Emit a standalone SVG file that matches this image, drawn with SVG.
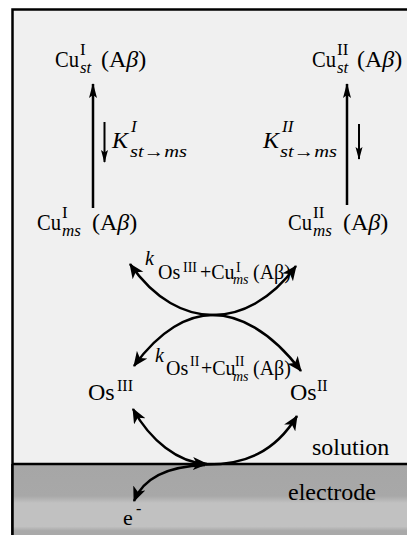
<svg xmlns="http://www.w3.org/2000/svg" width="407" height="535" viewBox="0 0 407 535">
<style>
.big{font-size:24px}
.sup{font-size:17px}
.mid{font-size:20px}
.sm{font-size:14px}
.it{font-style:italic}
.ln{fill:none;stroke:#000;stroke-width:2.5}
.thin{fill:none;stroke:#000;stroke-width:2}
</style>
<defs>
<linearGradient id="el" x1="0" y1="0" x2="0" y2="1">
<stop offset="0" stop-color="#a6a6a6"/>
<stop offset="0.45" stop-color="#a8a8a8"/>
<stop offset="0.55" stop-color="#c1c1c1"/>
<stop offset="0.88" stop-color="#c1c1c1"/>
<stop offset="0.94" stop-color="#a9a9a9"/>
<stop offset="1" stop-color="#a9a9a9"/>
</linearGradient>
<marker id="ah" markerUnits="userSpaceOnUse" markerWidth="17" markerHeight="14" refX="14" refY="6.5" orient="auto-start-reverse">
<path d="M0,0 L15,6.5 L0,13 L4,6.5 z" fill="#000"/>
</marker>
<marker id="av" markerUnits="userSpaceOnUse" markerWidth="16" markerHeight="10" refX="14" refY="4" orient="auto-start-reverse">
<path d="M0,0 L15,4 L0,8 L3,4 z" fill="#000"/>
</marker>
<marker id="as" markerUnits="userSpaceOnUse" markerWidth="14" markerHeight="8" refX="12" refY="3.5" orient="auto-start-reverse">
<path d="M0,0 L13,3.5 L0,7 L2.5,3.5 z" fill="#000"/>
</marker>
</defs>
<rect x="0" y="0" width="407" height="535" fill="#fff"/>
<g font-family="'Liberation Serif', 'DejaVu Serif', serif" fill="#000">
<g id="solution">
<rect x="12.5" y="9.5" width="400" height="455" fill="#f0f0f0"/>
<path d="M12.5,535 V9.5 H407" class="ln"/>
<text class="big" x="312" y="455">solution</text>
</g>
<g id="electrode">
<rect x="12.5" y="464" width="400" height="71" fill="url(#el)"/>
<path d="M12.5,464 V535 M12.5,464 H407" class="ln"/>
<text class="big" x="288" y="500">electrode</text>
</g>
<g id="connectors">
<path class="ln" d="M93,208 V84" marker-end="url(#av)"/>
<path class="ln" d="M347,205 V84" marker-end="url(#av)"/>
<path class="thin" d="M104.5,122 V162" marker-end="url(#as)"/>
<path class="thin" d="M359,124 V159" marker-end="url(#as)"/>
<path class="ln" d="M130,264 C155,300 185,315 213,315 C241,315 271,300 296,266" marker-start="url(#ah)" marker-end="url(#ah)"/>
<path class="ln" d="M134,366 C160,330 188,315 213,315 C238,315 270,330 301,371" marker-start="url(#ah)" marker-end="url(#ah)"/>
<path class="ln" d="M133,409 C150,440 178,463 207,464" marker-start="url(#ah)" marker-end="url(#ah)"/>
<path class="ln" d="M205,464.5 C245,465 275,452 297,416" marker-end="url(#ah)"/>
<path class="ln" d="M205,465 C175,466 145,474 134,501" marker-end="url(#ah)"/>
</g>
<g id="cu1-st">
<text class="big" x="55" y="67" textLength="24" lengthAdjust="spacingAndGlyphs">Cu</text>
<text class="sup" x="80" y="55">I</text>
<text class="sup it" x="80" y="73">st</text>
<text class="big" x="101" y="67">(A<tspan class="it">β</tspan>)</text>
</g>
<g id="cu2-st">
<text class="big" x="312" y="67" textLength="24" lengthAdjust="spacingAndGlyphs">Cu</text>
<text class="sup" x="337" y="55">II</text>
<text class="sup it" x="337" y="73">st</text>
<text class="big" x="357" y="67">(A<tspan class="it">β</tspan>)</text>
</g>
<g id="k1">
<text class="big it" x="112" y="148">K</text>
<text class="sup it" x="131" y="132">I</text>
<text class="sup it" x="130" y="157" textLength="57" lengthAdjust="spacingAndGlyphs">st→ms</text>
</g>
<g id="k2">
<text class="big it" x="263" y="148">K</text>
<text class="sup it" x="282" y="132">II</text>
<text class="sup it" x="280" y="157" textLength="57" lengthAdjust="spacingAndGlyphs">st→ms</text>
</g>
<g id="cu1-ms">
<text class="big" x="37" y="230" textLength="24" lengthAdjust="spacingAndGlyphs">Cu</text>
<text class="sup" x="62" y="218">I</text>
<text class="sup it" x="62" y="236">ms</text>
<text class="big" x="92" y="230">(A<tspan class="it">β</tspan>)</text>
</g>
<g id="cu2-ms">
<text class="big" x="288" y="230" textLength="24" lengthAdjust="spacingAndGlyphs">Cu</text>
<text class="sup" x="313" y="218">II</text>
<text class="sup it" x="313" y="236">ms</text>
<text class="big" x="343" y="230">(A<tspan class="it">β</tspan>)</text>
</g>
<g id="k-upper">
<text class="mid it" x="145" y="265">k</text>
<text class="mid" x="158" y="279">Os</text>
<text class="sm" x="183" y="272">III</text>
<text class="mid" x="200" y="279">+Cu</text>
<text class="sm" x="236" y="272">I</text>
<text class="sm it" x="233" y="284">ms</text>
<text class="mid" x="253" y="279">(Aβ)</text>
</g>
<g id="k-lower">
<text class="mid it" x="155" y="362">k</text>
<text class="mid" x="166" y="375">Os</text>
<text class="sm" x="190" y="366">II</text>
<text class="mid" x="201" y="375">+Cu</text>
<text class="sm" x="235" y="366">II</text>
<text class="sm it" x="233" y="381">ms</text>
<text class="mid" x="253" y="375">(Aβ)</text>
</g>
<g id="os3">
<text class="big" x="88" y="400">Os</text>
<text class="sm" x="117" y="391" style="font-size:16px">III</text>
</g>
<g id="os2">
<text class="big" x="290" y="400">Os</text>
<text class="sm" x="317" y="391" style="font-size:16px">II</text>
</g>
<g id="eminus">
<text class="mid" x="123" y="525" style="font-size:22px">e</text>
<text class="sm" x="136" y="514" style="font-size:16px">-</text>
</g>
</g>
</svg>
